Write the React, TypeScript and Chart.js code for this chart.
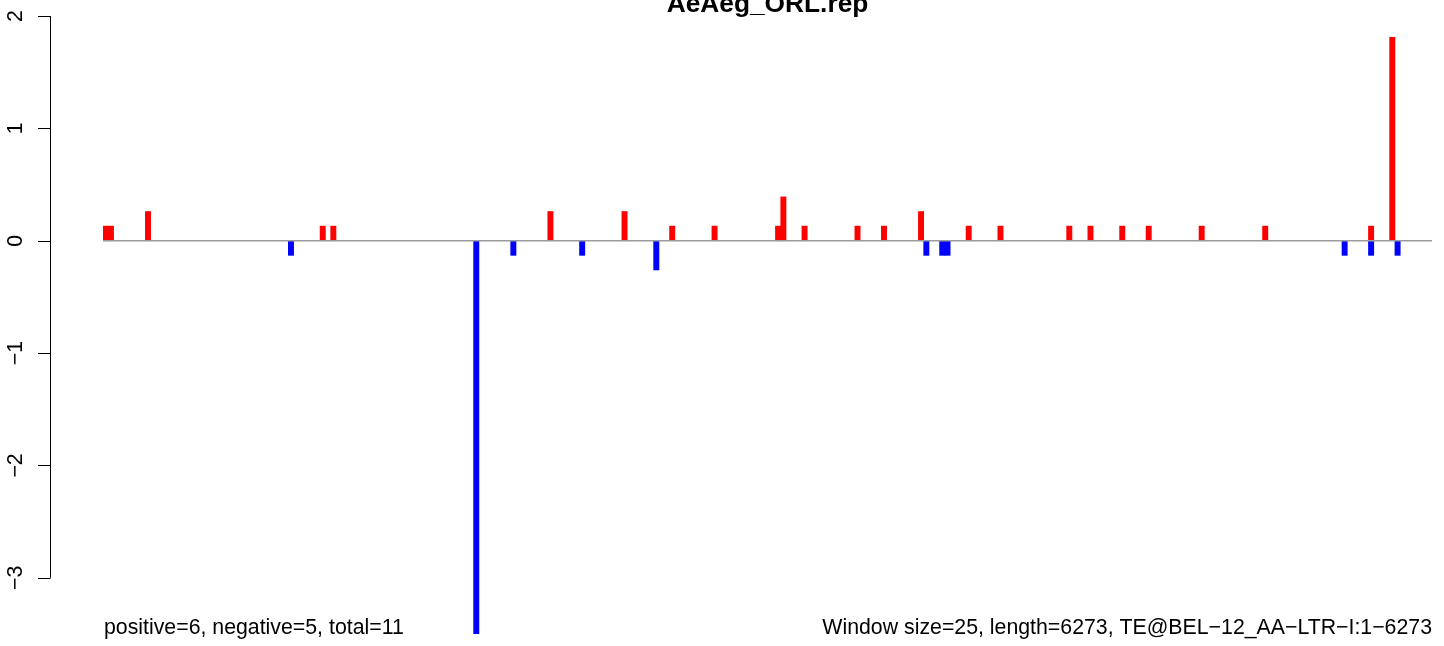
import React, { useEffect, useRef } from "react";
import { Chart, registerables } from "chart.js";

Chart.register(...registerables);

const TITLE = "AeAeg_ORL.rep";
const LEFT_NOTE = "positive=6, negative=5, total=11";
const RIGHT_NOTE = "Window size=25, length=6273, TE@BEL\u221212_AA\u2212LTR\u2212I:1\u22126273";
const WINDOW_COUNT = 251;
const Y_TICKS = [-3, -2, -1, 0, 1, 2];

// window indices and values of the positive (red) bars
const posIdx = [0, 1, 8, 41, 43, 84, 98, 107, 115, 127, 128, 132, 142, 147, 154, 163, 169, 182, 186, 192, 197, 207, 219, 239, 243];
const posVal = [0.13, 0.13, 0.26, 0.13, 0.13, 0.26, 0.26, 0.13, 0.13, 0.13, 0.39, 0.13, 0.13, 0.13, 0.26, 0.13, 0.13, 0.13, 0.13, 0.13, 0.13, 0.13, 0.13, 0.13, 1.81];
// window indices and values of the negative (blue) bars
const negIdx = [35, 70, 77, 90, 104, 155, 158, 159, 234, 239, 244];
const negVal = [-0.13, -3.5, -0.13, -0.13, -0.26, -0.13, -0.13, -0.13, -0.13, -0.13, -0.13];

const labels = Array.from({ length: WINDOW_COUNT }, (_, i) => String(i + 1));
function fill(idx: number[], val: number[]) {
  const arr: (number | null)[] = new Array(WINDOW_COUNT).fill(null);
  idx.forEach((k, j) => (arr[k] = val[j]));
  return arr;
}

const FONT = "Liberation Sans, Arial, Helvetica, sans-serif";

const decor = {
  id: "decor",
  afterDatasetsDraw(chart: any) {
    const { ctx, chartArea, scales } = chart;
    const y = scales.y;
    ctx.save();
    // zero line
    const y0 = y.getPixelForValue(0);
    ctx.strokeStyle = "#9c9c9c";
    ctx.lineWidth = 1.5;
    ctx.beginPath();
    ctx.moveTo(chartArea.left, y0);
    ctx.lineTo(chartArea.right, y0);
    ctx.stroke();
    // y axis (R style, offset to the left)
    const ax = 50;
    const top = y.getPixelForValue(Y_TICKS[Y_TICKS.length - 1]);
    const bot = y.getPixelForValue(Y_TICKS[0]);
    ctx.strokeStyle = "#000";
    ctx.lineWidth = 1;
    ctx.beginPath();
    ctx.moveTo(ax + 0.5, top);
    ctx.lineTo(ax + 0.5, bot);
    Y_TICKS.forEach((t) => {
      const py = Math.round(y.getPixelForValue(t)) + 0.5;
      ctx.moveTo(ax + 0.5, py);
      ctx.lineTo(ax - 12, py);
    });
    ctx.stroke();
    ctx.fillStyle = "#000";
    ctx.font = `21.3px ${FONT}`;
    ctx.textAlign = "center";
    ctx.textBaseline = "alphabetic";
    Y_TICKS.forEach((t) => {
      const py = y.getPixelForValue(t);
      ctx.save();
      ctx.translate(22, py);
      ctx.rotate(-Math.PI / 2);
      ctx.fillText(t < 0 ? "\u2212" + Math.abs(t) : String(t), 0, 0);
      ctx.restore();
    });
    // title
    ctx.font = `bold 26.3px ${FONT}`;
    ctx.textAlign = "center";
    ctx.fillText(TITLE, (chartArea.left + chartArea.right) / 2, 12);
    // notes
    ctx.font = `21.3px ${FONT}`;
    ctx.textAlign = "left";
    ctx.fillText(LEFT_NOTE, 104, 634);
    ctx.textAlign = "right";
    ctx.fillText(RIGHT_NOTE, chartArea.right, 634);
    ctx.restore();
  },
};

export default function App() {
  const ref = useRef<HTMLCanvasElement>(null);
  useEffect(() => {
    const chart = new Chart(ref.current!, {
      type: "bar",
      data: {
        labels,
        datasets: [
          {
            label: "positive",
            data: fill(posIdx, posVal),
            backgroundColor: "#ff0000",
            borderWidth: 0,
            barPercentage: 1,
            categoryPercentage: 1,
          },
          {
            label: "negative",
            data: fill(negIdx, negVal),
            backgroundColor: "#0000ff",
            borderWidth: 0,
            barPercentage: 1,
            categoryPercentage: 1,
          },
        ],
      },
      options: {
        responsive: false,
        animation: false,
        layout: { padding: { left: 103, right: 12, top: 16, bottom: 12 } },
        plugins: { legend: { display: false }, tooltip: { enabled: false }, title: { display: false } },
        scales: {
          x: { display: false, stacked: true, offset: true },
          y: { display: false, stacked: true, min: -3.5, max: 2 },
        },
      },
      plugins: [decor],
    });
    return () => chart.destroy();
  }, []);
  return (
    <canvas
      ref={ref}
      width={1444}
      height={646}
      style={{ position: "fixed", left: 0, top: 0, width: 1444, height: 646, background: "#fff" }}
    />
  );
}
